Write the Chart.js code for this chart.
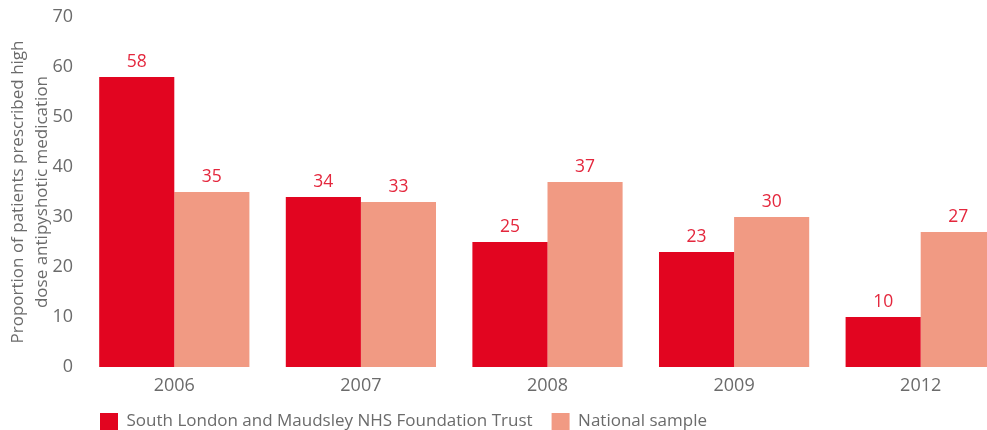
<!DOCTYPE html>
<html>
<head>
<meta charset="utf-8">
<script src="https://cdn.jsdelivr.net/npm/chart.js@4"></script>
<style>
  html, body { margin: 0; padding: 0; background: #fff; overflow: hidden; }
  #wrap { width: 1016px; height: 430px; position: relative; }
</style>
</head>
<body>
<div id="wrap"><canvas id="mychart"></canvas></div>
<script>
const years = ["2006", "2007", "2008", "2009", "2012"];
const slamValues = [58, 34, 25, 23, 10];
const nationalValues = [35, 33, 37, 30, 27];
const seriesNames = ["South London and Maudsley NHS Foundation Trust", "National sample"];
const yTitle = ["Proportion of patients prescribed high", "dose antipyshotic medication"];

const FONT = "'Open Sans', 'Noto Sans', sans-serif";
const GREY = "#6b6b6b";

// values above each bar
const valueLabels = {
  id: "valueLabels",
  afterDatasetsDraw(chart) {
    const ctx = chart.ctx;
    ctx.save();
    ctx.font = "17.5px " + FONT;
    ctx.fillStyle = "#e4273d";
    ctx.textAlign = "center";
    ctx.textBaseline = "bottom";
    chart.data.datasets.forEach((ds, i) => {
      chart.getDatasetMeta(i).data.forEach((bar, j) => {
        ctx.fillText(ds.data[j], bar.x, bar.y - 6);
      });
    });
    ctx.restore();
  }
};

new Chart(document.getElementById("mychart"), {
  type: "bar",
  data: {
    labels: years,
    datasets: [
      { label: seriesNames[0], data: slamValues, backgroundColor: "#e20520" },
      { label: seriesNames[1], data: nationalValues, backgroundColor: "#f19a83" }
    ]
  },
  options: {
    responsive: true,
    maintainAspectRatio: false,
    animation: false,
    layout: { padding: { top: 17, right: 2, left: 0, bottom: -10 } },
    datasets: { bar: { categoryPercentage: 0.805, barPercentage: 1 } },
    plugins: {
      tooltip: { enabled: false },
      legend: {
        position: "bottom",
        align: "start",
        fullSize: false,
        labels: {
          boxWidth: 18,
          boxHeight: 17,
          padding: 19,
          color: GREY,
          font: { family: FONT, size: 17 }
        }
      }
    },
    scales: {
      x: {
        afterFit(scale) { scale.height = 27; },
        grid: { display: false },
        border: { display: false },
        ticks: { color: GREY, font: { family: FONT, size: 18 }, padding: 0 }
      },
      y: {
        min: 0,
        max: 70,
        afterFit(scale) { scale.width = 81; },
        grid: { display: false },
        border: { display: false },
        ticks: { stepSize: 10, color: GREY, font: { family: FONT, size: 18 }, padding: 0 },
        title: {
          display: true,
          text: yTitle,
          color: GREY,
          font: { family: FONT, size: 17, lineHeight: 1.42 },
          padding: { top: 6, bottom: 0 }
        }
      }
    }
  },
  plugins: [valueLabels]
});
</script>
</body>
</html>
